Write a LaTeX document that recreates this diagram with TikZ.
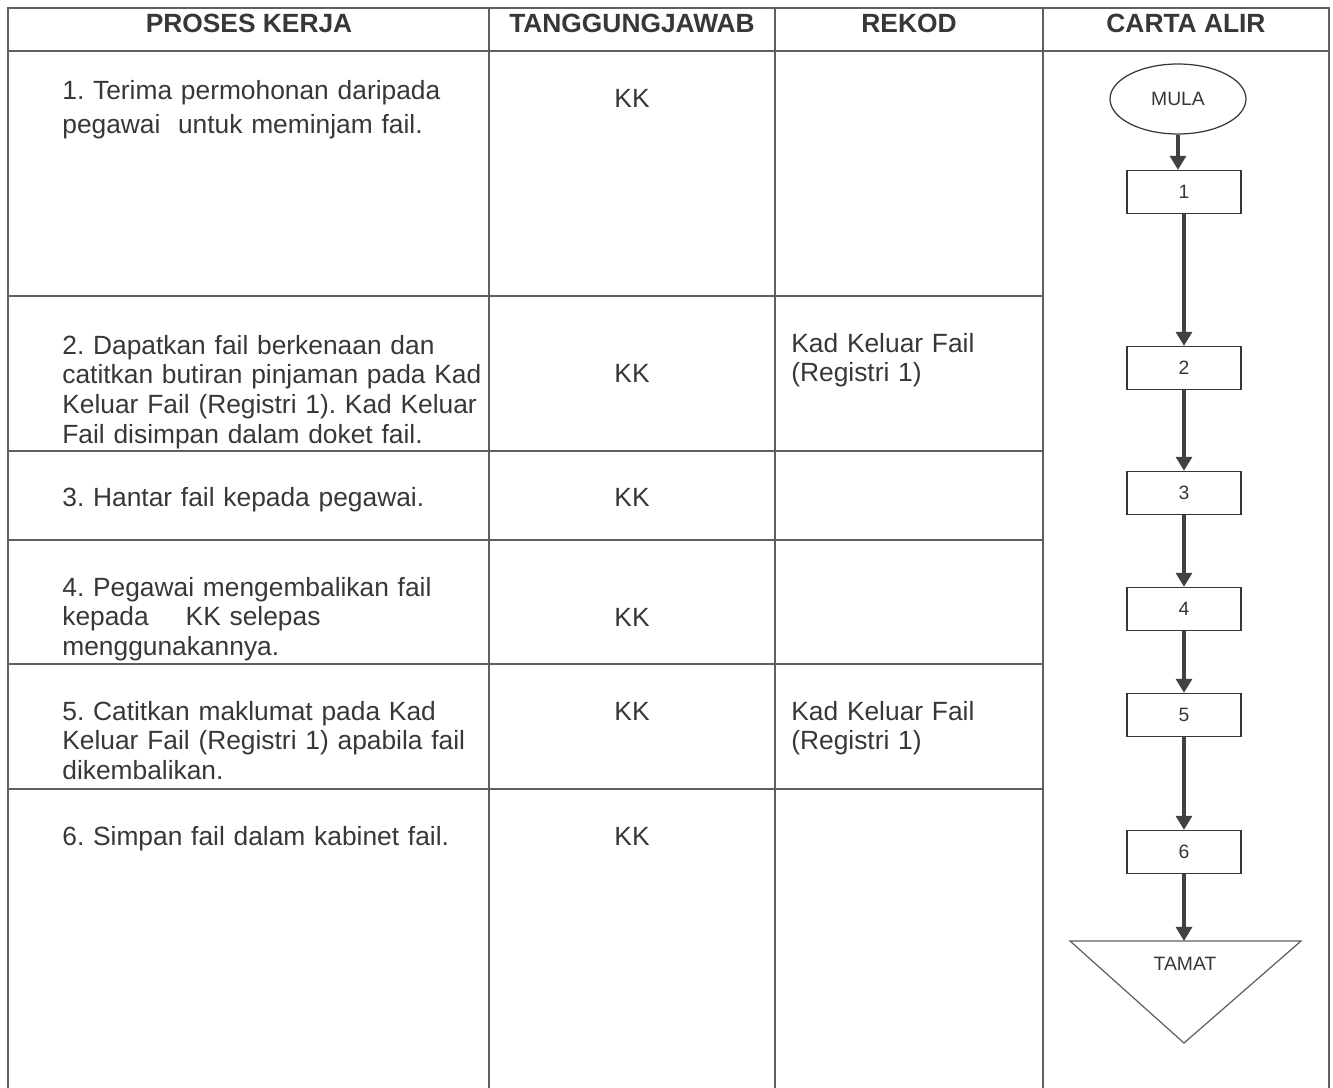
\documentclass[tikz,border=0pt]{standalone}
\usepackage{fontspec}
\setmainfont{Liberation Sans}
\usetikzlibrary{arrows.meta, shapes.geometric}
\definecolor{inktext}{RGB}{55, 55, 55}
\definecolor{gridline}{RGB}{95, 95, 95}
\definecolor{flowink}{RGB}{65, 65, 65}
\frenchspacing

\begin{document}
\begin{tikzpicture}[x=0.02cm, y=-0.02cm,
    cell/.style={inktext, anchor=base west, inner sep=0pt, text width=9cm, align=left,
      font=\fontsize{15}{16.9}\selectfont},
    kk/.style={inktext, anchor=base, inner sep=0pt, font=\fontsize{15}{16.9}\selectfont},
    head/.style={inktext, anchor=base, inner sep=0pt, font=\bfseries\fontsize{15}{17}\selectfont},
    flowbox/.style={draw=gridline, line width=0.7pt, minimum width=2.28cm, minimum height=0.86cm,
      inner sep=0pt, inktext, font=\fontsize{11}{13}\selectfont},
    flowarrow/.style={flowink, line width=2pt, -{Triangle[width=9pt, length=8pt]}}]
      \useasboundingbox (0,0) rectangle (1333,1088);
      % table frame
      \draw[gridline, line width=0.6pt] (8,1088) -- (8,8) -- (1329,8) -- (1329,1088);
      \draw[gridline, line width=0.6pt] (489,8) -- (489,1088);
      \draw[gridline, line width=0.6pt] (775,8) -- (775,1088);
      \draw[gridline, line width=0.6pt] (1043,8) -- (1043,1088);
      \draw[gridline, line width=0.6pt] (8,51) -- (1329,51);
      % row lines (not in the flow column)
      \draw[gridline, line width=0.6pt] (8,296) -- (1043,296);
      \draw[gridline, line width=0.6pt] (8,451) -- (1043,451);
      \draw[gridline, line width=0.6pt] (8,540) -- (1043,540);
      \draw[gridline, line width=0.6pt] (8,664) -- (1043,664);
      \draw[gridline, line width=0.6pt] (8,789) -- (1043,789);
      % header
      \node[head] (hproses) at (249,33) {PROSES KERJA};
      \node[head] (htanggung) at (632,33) {TANGGUNGJAWAB};
      \node[head] (hrekod) at (909,33) {REKOD};
      \node[head] (hcarta) at (1186,33) {CARTA ALIR};
      % proses kerja
      \node[cell] (p1) at (62,100) {1. Terima permohonan daripada\\[2pt]pegawai\ \ untuk meminjam fail.};
      \node[cell] (p2) at (62,354) {2. Dapatkan fail berkenaan dan\\catitkan butiran pinjaman pada Kad\\Keluar Fail (Registri 1). Kad Keluar\\Fail disimpan dalam doket fail.};
      \node[cell] (p3) at (62,506) {3. Hantar fail kepada pegawai.};
      \node[cell] (p4) at (62,596) {4. Pegawai mengembalikan fail\\kepada\hspace{21pt}KK selepas\\menggunakannya.};
      \node[cell] (p5) at (62,720) {5. Catitkan maklumat pada Kad\\Keluar Fail (Registri 1) apabila fail\\dikembalikan.};
      \node[cell] (p6) at (62,845) {6. Simpan fail dalam kabinet fail.};
      % tanggungjawab
      \node[kk] (t1) at (632,108) {KK};
      \node[kk] (t2) at (632,382) {KK};
      \node[kk] (t3) at (632,506) {KK};
      \node[kk] (t4) at (632,626) {KK};
      \node[kk] (t5) at (632,720) {KK};
      \node[kk] (t6) at (632,845) {KK};
      % rekod
      \node[cell] (r2) at (791,352) {Kad Keluar Fail\\(Registri 1)};
      \node[cell] (r5) at (791,720) {Kad Keluar Fail\\(Registri 1)};
      % carta alir
      \node[draw=gridline, line width=0.7pt, ellipse, minimum width=2.72cm, minimum height=1.4cm,
        inner sep=0pt, inktext, font=\fontsize{11}{13}\selectfont] (mula) at (1178,99) {MULA};
      \node[flowbox] (n1) at (1184,192) {1};
      \node[flowbox] (n2) at (1184,368) {2};
      \node[flowbox] (n3) at (1184,493) {3};
      \node[flowbox] (n4) at (1184,609) {4};
      \node[flowbox] (n5) at (1184,715) {5};
      \node[flowbox] (n6) at (1184,852) {6};
      \draw[gridline, line width=0.7pt] (1070,941) -- (1301,941) -- (1184,1043) -- cycle;
      \coordinate (tamattop) at (1184,941);
      \node[inktext, anchor=base, inner sep=0pt, font=\fontsize{11}{13}\selectfont] (tamat) at (1185,970) {TAMAT};
      \draw[flowarrow] (mula.south) -- (mula.south |- n1.north);
      \draw[flowarrow] (n1) -- (n2);
      \draw[flowarrow] (n2) -- (n3);
      \draw[flowarrow] (n3) -- (n4);
      \draw[flowarrow] (n4) -- (n5);
      \draw[flowarrow] (n5) -- (n6);
      \draw[flowarrow] (n6) -- (tamattop);
    \end{tikzpicture}
\end{document}
